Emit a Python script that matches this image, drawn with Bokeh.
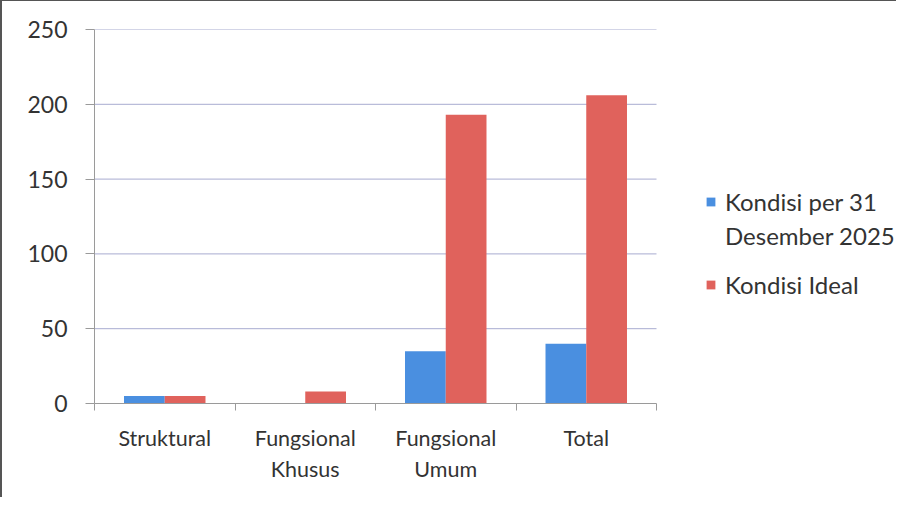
from bokeh.plotting import figure
from bokeh.models import ColumnDataSource, Legend, LegendItem, FixedTicker, Range1d
from bokeh.embed import file_html
from bokeh.resources import INLINE

categories = ["Struktural", "Fungsional\nKhusus", "Fungsional\nUmum", "Total"]
kondisi_2025 = [5, 0, 35, 40]
kondisi_ideal = [5, 8, 193, 206]
y_ticks = [0, 50, 100, 150, 200, 250]
legend_labels = ["Kondisi per 31", "Desember 2025", "Kondisi Ideal"]

BLUE = "#4A8FE0"
RED = "#E0625C"
FONT = "Lato"
TXT = "#333333"
GRID = "#a8acd0"
AXIS = "#9a9a9a"

n = len(categories)
bw = 0.29
idx = list(range(n))
src = ColumnDataSource(dict(
    xb=[i + 0.5 - bw / 2 for i in idx],
    xr=[i + 0.5 + bw / 2 for i in idx],
    blue=kondisi_2025,
    red=kondisi_ideal,
))

LEFT = 92
TOP = 28
FRAME_H = 374
W, H = 896, 497
FRAME_W = W - LEFT     # frame spans to the right edge so the legend is not clipped
PLOT_W = 562           # width occupied by the category area
p = figure(width=W, height=H, output_backend="svg", toolbar_location=None,
           x_range=Range1d(0, n * FRAME_W / PLOT_W), y_range=Range1d(0, 250),
           min_border_left=LEFT, min_border_right=0, min_border_top=TOP,
           min_border_bottom=H - TOP - FRAME_H)
p.styles = {"border-left": "2px solid #555", "border-top": "1px solid #555"}
p.outline_line_color = None
p.background_fill_color = "white"

# horizontal grid lines limited to the category area
gsrc = ColumnDataSource(dict(y=y_ticks[1:], x0=[0] * (len(y_ticks) - 1), x1=[n] * (len(y_ticks) - 1)))
p.segment(x0="x0", x1="x1", y0="y", y1="y", source=gsrc, line_color=GRID, line_width=1)

rb = p.vbar(x="xb", top="blue", width=bw, source=src, fill_color=BLUE, line_color=None)
rr = p.vbar(x="xr", top="red", width=bw, source=src, fill_color=RED, line_color=None)
dummy = p.vbar(x=[0], top=[0], width=0, fill_alpha=0, line_alpha=0)

# y axis
p.yaxis.ticker = FixedTicker(ticks=y_ticks)
p.yaxis.axis_line_color = AXIS
p.yaxis.major_tick_line_color = AXIS
p.yaxis.major_tick_out = 9
p.yaxis.major_tick_in = 0
p.yaxis.minor_tick_line_color = None
p.yaxis.major_label_text_font = FONT
p.yaxis.major_label_text_font_size = "23px"
p.yaxis.major_label_text_color = TXT
p.yaxis.major_label_standoff = 18

# x axis
p.xaxis.bounds = (0, n)
p.xaxis.ticker = FixedTicker(ticks=[i + 0.5 for i in idx], minor_ticks=list(range(n + 1)))
p.xaxis.major_label_overrides = {i + 0.5: c for i, c in zip(idx, categories)}
p.xaxis.axis_line_color = AXIS
p.xaxis.major_tick_line_color = None
p.xaxis.major_tick_out = 0
p.xaxis.major_tick_in = 0
p.xaxis.minor_tick_line_color = AXIS
p.xaxis.minor_tick_out = 7
p.xaxis.minor_tick_in = 0
p.xaxis.major_label_text_font = FONT
p.xaxis.major_label_text_font_size = "21.5px"
p.xaxis.major_label_text_color = TXT
p.xaxis.major_label_text_line_height = 1.2
p.xaxis.major_label_standoff = 14

p.xgrid.grid_line_color = None
p.ygrid.grid_line_color = None


def make_legend(items, loc, spacing=0):
    lg = Legend(items=items, location=loc)
    lg.border_line_color = None
    lg.background_fill_alpha = 0
    lg.padding = 0
    lg.margin = 0
    lg.label_text_font = FONT
    lg.label_text_font_size = "24px"
    lg.label_text_color = TXT
    lg.glyph_width = 11
    lg.glyph_height = 11
    lg.label_standoff = 9
    lg.spacing = spacing
    lg.label_height = 11
    return lg


lg1 = make_legend([LegendItem(label=legend_labels[0], renderers=[rb]),
                   LegendItem(label=legend_labels[1], renderers=[dummy])],
                  (611, 153), spacing=5)
lg2 = make_legend([LegendItem(label=legend_labels[2], renderers=[rr])],
                  (611, 104))
p.add_layout(lg1, "center")
p.add_layout(lg2, "center")

open("out.html", "w").write(file_html(p, INLINE))
